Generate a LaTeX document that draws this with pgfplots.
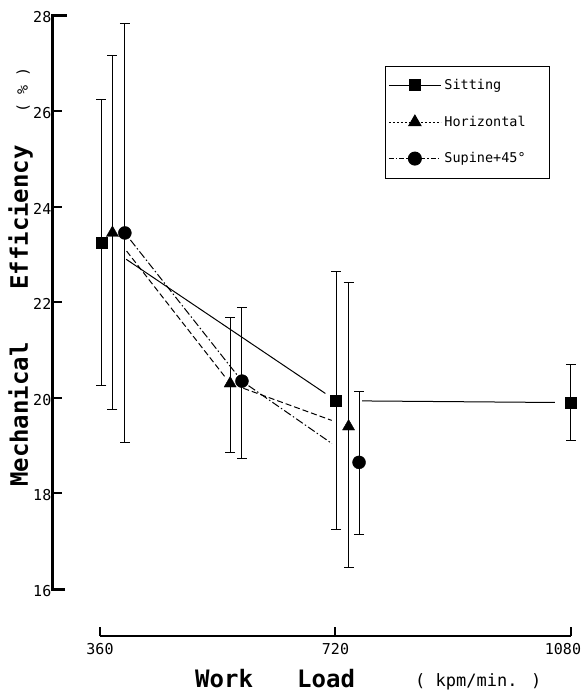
\documentclass[border=0pt]{standalone}
\usepackage{pgfplots}
\pgfplotsset{compat=1.18}
\usepackage{fontspec}
\setmainfont{DejaVu Sans Mono}
\begin{document}
\begin{tikzpicture}
\begin{axis}[
  at={(0,0)}, anchor=south west,
  scale only axis, width=531pt, height=620.5pt,
  xmin=288.15, xmax=1099.9, ymin=15.017, ymax=28,
  axis x line=bottom, axis y line=left,
  axis line style={draw=none},
  clip=false,
  xtick={360,720,1080}, ytick={16,18,...,28},
  xticklabels={360,720,{\kern-16pt 1080}},
  tick align=inside,
  major tick length=9pt,
  every tick/.style={black, line width=2pt},
  /pgf/number format/assume math mode=true,
  /pgf/number format/1000 sep={},
  xticklabel style={font=\fontsize{15}{17}\selectfont, yshift=-4pt},
  yticklabel style={font=\fontsize{15}{17}\selectfont, inner xsep=1.5pt, yshift=-2pt},
  legend style={at={(0.6252,0.9186)}, anchor=north west, draw=black, line width=0.8pt,
     font=\fontsize{13.5}{15}\selectfont, row sep=24pt, inner xsep=3pt, inner ysep=13pt,
     nodes={inner sep=0pt}},
  legend image code/.code={\draw[mark repeat=2,mark phase=2,#1] plot coordinates {(0pt,0pt) (26pt,0pt) (52pt,0pt)};},
  legend cell align=left,
  error bars/error bar style={line width=1pt, solid},
  error bars/error mark options={rotate=90, line width=1pt, mark size=5pt, solid},
]
% legend
\addlegendimage{black, line width=1pt, solid, mark=square*, mark size=5.5pt, mark options={solid}}
\addlegendentry{\makebox[105pt][l]{\hspace{3pt}Sitting}}
\addlegendimage{black, line width=1pt, dash pattern=on 2pt off 2pt, mark=triangle*, mark size=7pt, mark options={solid}}
\addlegendentry{\makebox[105pt][l]{\hspace{3pt}Horizontal}}
\addlegendimage{black, line width=1pt, dash pattern=on 5pt off 2pt on 1.5pt off 2pt, mark=*, mark size=6.5pt, mark options={solid}}
\addlegendentry{\makebox[105pt][l]{\hspace{3pt}Supine+45°}}

% connecting segments
\addplot[forget plot, black, line width=1pt, solid, shorten <=30pt, shorten >=13pt] coordinates {(362,23.25) (721,19.94)};
\addplot[forget plot, black, line width=1pt, solid, shorten <=26pt, shorten >=16pt] coordinates {(721,19.94) (1080,19.90)};
\addplot[forget plot, black, line width=1pt, dash pattern=on 6pt off 3pt, shorten <=23pt, shorten >=8pt] coordinates {(379,23.45) (559,20.30)};
\addplot[forget plot, black, line width=1pt, dash pattern=on 6pt off 3pt, shorten <=14pt, shorten >=18pt] coordinates {(559,20.30) (740,19.40)};
\addplot[forget plot, black, line width=1pt, dash pattern=on 8pt off 2.5pt on 1.5pt off 2.5pt, shorten <=9pt, shorten >=8pt] coordinates {(398,23.45) (577,20.35)};
\addplot[forget plot, black, line width=1pt, dash pattern=on 8pt off 2.5pt on 1.5pt off 2.5pt, shorten <=8pt, shorten >=33pt] coordinates {(577,20.35) (756,18.65)};

% Sitting
\addplot[forget plot, black, only marks, mark=square*, mark size=5.5pt,
  error bars/.cd, y dir=both, y explicit] coordinates {
  (362,23.25) += (0,2.99) -= (0,3.00)
  (721,19.94) += (0,2.70) -= (0,2.69)
  (1080,19.90) += (0,0.80) -= (0,0.80)
};
% Horizontal
\addplot[forget plot, black, only marks, mark=triangle*, mark size=7pt,
  error bars/.cd, y dir=both, y explicit] coordinates {
  (379,23.45) += (0,3.71) -= (0,3.69)
  (559,20.30) += (0,1.38) -= (0,1.44)
  (740,19.40) += (0,3.02) -= (0,2.95)
};
% Supine + 45
\addplot[forget plot, black, only marks, mark=*, mark size=6.5pt,
  error bars/.cd, y dir=both, y explicit] coordinates {
  (398,23.45) += (0,4.39) -= (0,4.38)
  (577,20.35) += (0,1.53) -= (0,1.61)
  (756,18.65) += (0,1.48) -= (0,1.51)
};

% axis lines
\draw[line width=3pt] (axis cs:306.5,16) -- (axis cs:288.15,16) -- (axis cs:288.15,28) -- (axis cs:309.5,28);
\draw[line width=2.2pt] (axis cs:360,15.017) -- (axis cs:1080,15.017);

% axis titles
\node[rotate=90, anchor=base west, inner sep=0pt, font=\fontsize{24}{28}\selectfont\bfseries] at (axis cs:249.9,18.134) {Mechanical};
\node[rotate=90, anchor=base west, inner sep=0pt, font=\fontsize{24}{28}\selectfont\bfseries] at (axis cs:249.9,22.257) {Efficiency};
\node[rotate=90, anchor=base west, inner sep=0pt, font=\fontsize{15}{18}\selectfont] at (axis cs:249.9,25.96) {( \% )};
\node[anchor=base west, inner sep=0pt, font=\fontsize{24}{28}\selectfont\bfseries] at (axis cs:505.2,13.93) {Work};
\node[anchor=base west, inner sep=0pt, font=\fontsize{24}{28}\selectfont\bfseries] at (axis cs:661.2,13.93) {Load};
\node[anchor=base west, inner sep=0pt, font=\fontsize{17}{20}\selectfont] at (axis cs:841.5,13.95) {( kpm/min. )};
\end{axis}
\pgfresetboundingbox
\path (-53pt,-59pt) rectangle (531pt,636pt);
\end{tikzpicture}
\end{document}
